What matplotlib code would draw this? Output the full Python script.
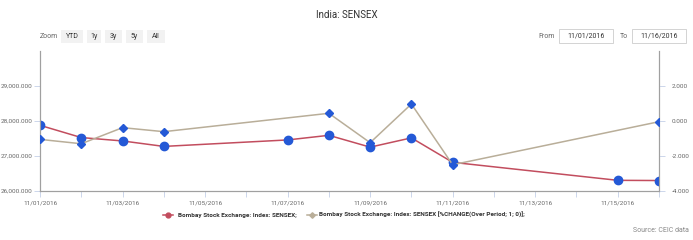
import numpy as np
import pandas as pd
import matplotlib
matplotlib.use('Agg')
import matplotlib.pyplot as plt
import matplotlib.dates as mdates
from matplotlib.patches import Rectangle

plt.rcParams['font.family'] = ['Roboto', 'DejaVu Sans']

# data
sensex_dates = ['2016-11-01', '2016-11-02', '2016-11-03', '2016-11-04', '2016-11-07', '2016-11-08',
                '2016-11-09', '2016-11-10', '2016-11-11', '2016-11-15', '2016-11-16']
sensex_vals = [27877, 27527, 27430, 27274, 27459, 27591, 27253, 27518, 26819, 26305, 26299]

pct_dates = ['2016-11-01', '2016-11-02', '2016-11-03', '2016-11-04', '2016-11-08',
             '2016-11-09', '2016-11-10', '2016-11-11', '2016-11-16']
pct_vals = [-1.05, -1.30, -0.38, -0.61, 0.44, -1.24, 0.97, -2.50, -0.04]

left_ticks = [26000, 27000, 28000, 29000]
right_ticks = [-4, -2, 0, 2]

red = '#c24d5e'
tan = '#b9ae99'
blue = '#2459d6'
axis_col = '#a0a0a0'
tick_col = '#ccd6eb'
text_col = '#666666'

sx = pd.to_datetime(sensex_dates)
px = pd.to_datetime(pct_dates)

fig = plt.figure(figsize=(6.93, 2.40), dpi=100)
ax = fig.add_axes([40/693, 1 - 191/240, 619/693, 140/240])
ax2 = ax.twinx()

ax.plot(sx, sensex_vals, color=red, lw=1.1, marker='o', ms=6.0,
        mfc=blue, mec=blue, zorder=3)
ax2.plot(px, pct_vals, color=tan, lw=1.1, marker='D', ms=4.2,
         mfc=blue, mec=blue, zorder=3)

ax.set_xlim(pd.Timestamp('2016-11-01'), pd.Timestamp('2016-11-16'))
ax.set_ylim(26000, 30000)
ax2.set_ylim(-4, 4)
ax.set_yticks(left_ticks)
ax.set_yticklabels(['{:,.3f}'.format(v) for v in left_ticks])
ax2.set_yticks(right_ticks)
ax2.set_yticklabels(['{:.3f}'.format(v) for v in right_ticks])

ax.xaxis.set_major_locator(mdates.DayLocator(bymonthday=range(1, 32, 2)))
ax.xaxis.set_major_formatter(mdates.DateFormatter('%m/%d/%Y'))
ax.xaxis.set_minor_locator(mdates.DayLocator())

for a in (ax, ax2):
    a.spines['top'].set_visible(False)
    for s in ('left', 'right', 'bottom'):
        a.spines[s].set_color(axis_col)
        a.spines[s].set_linewidth(0.8)
    a.tick_params(axis='both', which='both', colors=tick_col, labelcolor=text_col,
                  labelsize=4.6, length=4, width=0.7)
ax.tick_params(axis='y', length=4, pad=1.5)
ax2.tick_params(axis='y', length=4, pad=5)
ax.tick_params(axis='x', pad=3)
ax.set_facecolor('none')

# title
fig.text(0.5, 1 - 15/240, 'India: SENSEX', ha='center', va='center', fontsize=7, color='#333333')

# zoom buttons
fig.text(40/693, 1 - 36/240, 'Zoom', ha='left', va='center', fontsize=5, color=text_col)
for lab, x0, x1 in [('YTD', 61, 83), ('1y', 87, 101), ('3y', 105, 122), ('5y', 126, 143), ('All', 147, 165)]:
    fig.patches.append(Rectangle((x0/693, 1 - 43/240), (x1 - x0)/693, 13/240,
                                 transform=fig.transFigure, facecolor='#f2f2f2',
                                 edgecolor='none'))
    fig.text((x0 + x1)/2/693, 1 - 36/240, lab, ha='center', va='center', fontsize=5, color='#333333')

# date range inputs
fig.text(555/693, 1 - 36/240, 'From', ha='right', va='center', fontsize=5, color=text_col)
fig.text(628/693, 1 - 36/240, 'To', ha='right', va='center', fontsize=5, color=text_col)
for lab, x0, x1 in [('11/01/2016', 559, 613), ('11/16/2016', 632, 686)]:
    fig.patches.append(Rectangle((x0/693, 1 - 43/240), (x1 - x0)/693, 14/240,
                                 transform=fig.transFigure, facecolor='white',
                                 edgecolor='#cccccc', lw=0.6))
    fig.text((x0 + x1)/2/693, 1 - 36/240, lab, ha='center', va='center', fontsize=5, color='#333333')

# legend
ly = 1 - 215/240
fig.lines.append(plt.Line2D([163/693, 173/693], [ly, ly], transform=fig.transFigure,
                            color=red, lw=1.1))
fig.lines.append(plt.Line2D([168/693], [ly], transform=fig.transFigure,
                            color=red, marker='o', ms=3.5, lw=0))
fig.text(178/693, ly, 'Bombay Stock Exchange: Index: SENSEX;', ha='left', va='center',
         fontsize=4.6, fontweight='bold', color='#333333')
fig.lines.append(plt.Line2D([307/693, 317/693], [ly, ly], transform=fig.transFigure,
                            color=tan, lw=1.1))
fig.lines.append(plt.Line2D([312/693], [ly], transform=fig.transFigure,
                            color=tan, marker='D', ms=2.8, lw=0))
fig.text(319/693, ly, 'Bombay Stock Exchange: Index: SENSEX [%CHANGE(Over Period; 1; 0)];',
         ha='left', va='center', fontsize=4.6, fontweight='bold', color='#333333')

# source
fig.text(689/693, 1 - 231/240, 'Source: CEIC data', ha='right', va='center', fontsize=5, color='#888888')

fig.savefig('out.png', dpi=100)
